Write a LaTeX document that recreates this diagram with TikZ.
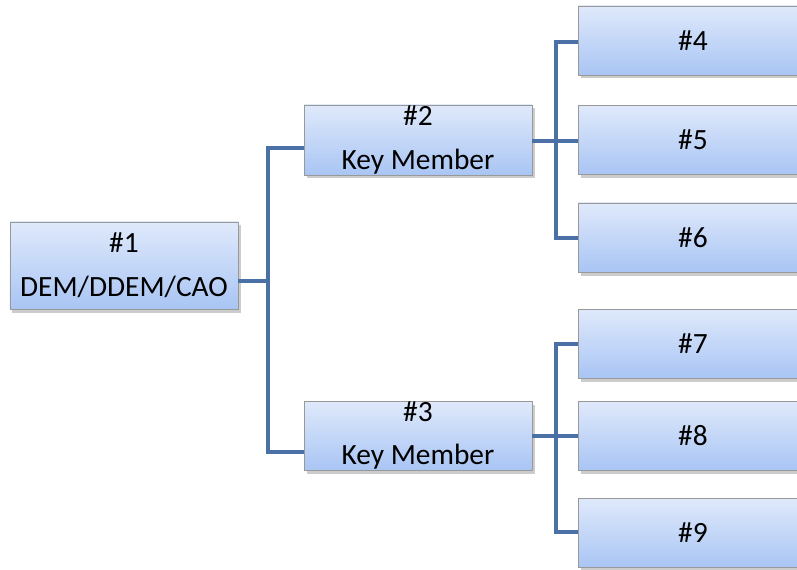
\documentclass[tikz,border=0pt]{standalone}
\usepackage{fontspec}
\setmainfont{Carlito}
\usetikzlibrary{shadows}
\begin{document}
\begin{tikzpicture}[x=1bp,y=-1bp,
  box/.style={draw=black!40, line width=0.8bp, top color=boxtop, bottom color=boxbot,
    drop shadow={shadow xshift=2.5bp, shadow yshift=-3.5bp, opacity=0.4},
    minimum width=228bp, inner sep=0pt, align=center,
    font=\fontsize{29.5}{44}\selectfont},
  wide/.style={box, minimum width=230bp, minimum height=69bp},
  conn/.style={draw=linkblue, line width=3.5bp}]
\definecolor{boxtop}{HTML}{DFE9FB}
\definecolor{boxbot}{HTML}{A9C5F4}
\definecolor{linkblue}{HTML}{4A70A6}
\useasboundingbox (0,0) rectangle (797,570);
\clip (0,0) rectangle (797,570);
\node[box, minimum height=87bp] (n1) at (124,265.5) {\#1\\DEM/DDEM/CAO};
\node[box, minimum height=70bp] (n2) at (418,140) {\#2\\Key Member};
\node[box, minimum height=69bp] (n3) at (418,435.5) {\#3\\Key Member};
\node[wide] (n4) at (693,40.5) {\#4};
\node[wide] (n5) at (693,140) {\#5};
\node[wide] (n6) at (693,237.5) {\#6};
\node[wide] (n7) at (693,343.5) {\#7};
\node[wide] (n8) at (693,435.5) {\#8};
\node[wide] (n9) at (693,533) {\#9};
\coordinate (j1) at (268,281);
\coordinate (j2) at (556,141);
\coordinate (j3) at (556,436);
\draw[conn] (n1.east |- j1) -- (j1);
\draw[conn] (n2.west |- 0,148) -| (j1) |- (n3.west |- 0,452);
\draw[conn] (n2.east |- j2) -- (j2);
\draw[conn] (n4.west |- 0,42) -| (j2) |- (n6.west |- 0,238);
\draw[conn] (j2) -- (n5.west |- j2);
\draw[conn] (n3.east |- j3) -- (j3);
\draw[conn] (n7.west |- 0,344) -| (j3) |- (n9.west |- 0,532);
\draw[conn] (j3) -- (n8.west |- j3);
\end{tikzpicture}
\end{document}
